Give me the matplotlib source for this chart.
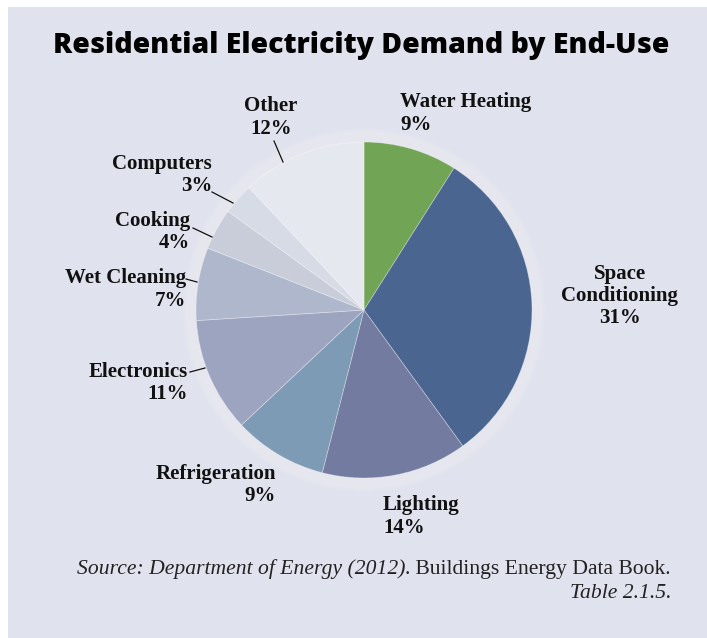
import numpy as np
import matplotlib
matplotlib.use('Agg')
import matplotlib.pyplot as plt
from matplotlib.patches import Rectangle, Circle

# 住宅用电终端用途占比
labels = ['Water Heating', 'Space\nConditioning', 'Lighting', 'Refrigeration', 'Electronics',
          'Wet Cleaning', 'Cooking', 'Computers', 'Other']
shares = [9, 31, 14, 9, 11, 7, 4, 3, 12]
colors = ['#72a455', '#4a6690', '#737ba0', '#7e9bb5', '#9da4bf',
          '#aeb7cb', '#c9cdd9', '#d7dbe6', '#e6e8f0']

W, H = 707, 638
fig = plt.figure(figsize=(W / 100, H / 100), dpi=100)
fig.patch.set_facecolor('white')
ax = fig.add_axes([0, 0, 1, 1])

cx, cy, R = 364, H - 310, 168

# 背景面板
ax.add_patch(Rectangle((8, 0), W - 8, H - 7, facecolor='#e0e2ee', edgecolor='none', zorder=0))

# 饼图外圈的白色光晕
for r in np.linspace(R + 14, R, 16):
    ax.add_patch(Circle((cx, cy), r, facecolor='white', alpha=0.04, edgecolor='none', zorder=1))

wedges, _ = ax.pie(shares, colors=colors, startangle=90, counterclock=False,
                   center=(cx, cy), radius=R,
                   wedgeprops=dict(edgecolor=(1, 1, 1, 0.35), linewidth=0.6))
for w in wedges:
    w.set_zorder(2)

ax.set_xlim(0, W)
ax.set_ylim(0, H)
ax.set_aspect('equal')
ax.axis('off')

lab_font = dict(family='Liberation Serif', fontweight='bold', fontsize=15, color='#111111',
                linespacing=1.15, va='center')

# 标签位置 (x, 距顶部的 y, 对齐方式)
label_pos = [
    (400, 113.5, 'left'),
    (620, 296, 'center'),
    (383, 516.5, 'left'),
    (276, 485, 'right'),
    (188, 383, 'right'),
    (186, 289.5, 'right'),
    (190, 232, 'right'),
    (212, 175, 'right'),
    (271, 117.5, 'center'),
]
# 引线: 文字端 -> 饼图边缘
leaders = {4: ((190, 372), (205, 368)),
           5: ((186, 279), (197, 282)),
           6: ((193, 228), (212, 237)),
           7: ((212, 192), (233, 203)),
           8: ((274, 141), (283, 162))}

for i, (name, s) in enumerate(zip(labels, shares)):
    x, y, ha = label_pos[i]
    ax.text(x, H - y, '%s\n%d%%' % (name, s), ha=ha, multialignment=ha, **lab_font)
    if i in leaders:
        (sx, sy), (ex, ey) = leaders[i]
        ax.plot([sx, ex], [H - sy, H - ey], color='#111111', lw=0.9, zorder=3)

ax.text(361.5, H - 45, 'Residential Electricity Demand by End-Use', ha='center', va='center',
        family='Open Sans', fontweight='heavy', fontsize=20.4, color='black')

# 来源说明, 斜体与正体混排
src_font = dict(family='Liberation Serif', fontsize=15.6, color='#222222', va='baseline')
right_x = 671
t1 = ax.text(right_x, H - 574, ' Buildings Energy Data Book.', ha='right', **src_font)
fig.canvas.draw()
bb = t1.get_window_extent()
ax.text(bb.x0, H - 574, 'Source: Department of Energy (2012).', ha='right', style='italic', **src_font)
ax.text(right_x, H - 598, 'Table 2.1.5.', ha='right', style='italic', **src_font)

fig.savefig('out.png', dpi=100, facecolor='white')
